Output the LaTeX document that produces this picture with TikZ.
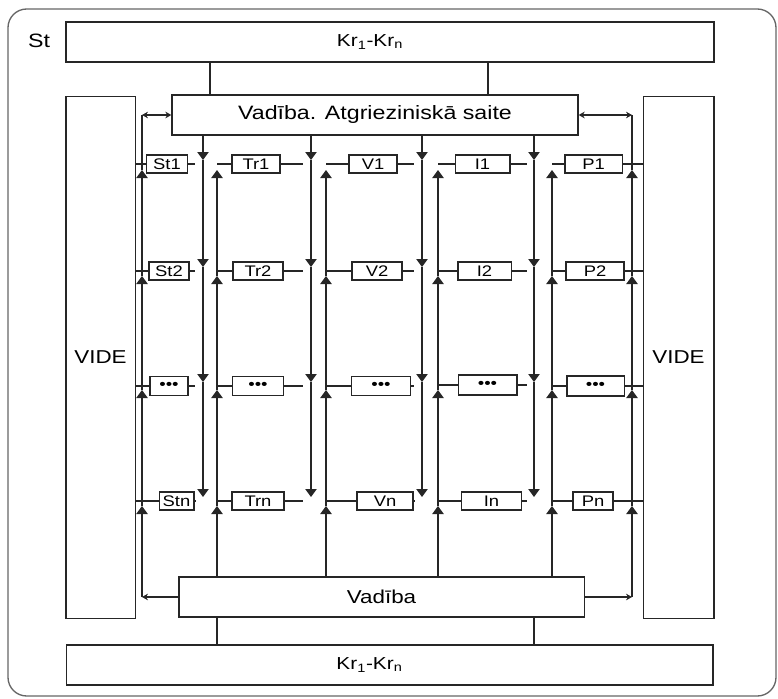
\documentclass[tikz,border=0pt]{standalone}
\usepackage{fontspec}
\setmainfont[FakeStretch=1.2]{Liberation Sans}
\usetikzlibrary{arrows.meta,positioning}

\begin{document}
\begin{tikzpicture}[
    x=0.75pt, y=-0.75pt,
    wire/.style={draw=black!85, line width=1pt},
    blk/.style={rectangle, draw=black!85, line width=1pt, minimum height=30pt, inner sep=0pt, font=\fontsize{14}{14}\selectfont},
    cell/.style={rectangle, draw=black!85, line width=1pt, minimum height=13.5pt, inner sep=0pt, font=\fontsize{11.5}{11.5}\selectfont},
    bus/.style={wire, -{Triangle[width=8.5pt,length=6pt]}},
    dbl/.style={wire, {Stealth[width=5pt,length=4.5pt]}-{Stealth[width=5pt,length=4.5pt]}},
    toarr/.style={wire, -{Stealth[width=5pt,length=4.5pt]}}
    ]
    \useasboundingbox (0,0) rectangle (778,699);
    \draw[black!60, line width=1pt, rounded corners=14pt] (8,9) rectangle (776,696);
    \node[font=\fontsize{14.5}{14.5}\selectfont] (stlabel) at (39,41) {St};

    % big blocks
    \node[blk, minimum width=486pt, font=\fontsize{13}{13}\selectfont] (krtop) at (390,42) {Kr\textsubscript{1}-Kr\textsubscript{n}\hspace*{30pt}};
    \node[blk, minimum width=304.5pt, font=\fontsize{14.5}{14.5}\selectfont] (ctl) at (375,115) {Vadība. Atgrieziniskā saite};
    \node[blk, minimum width=52pt, minimum height=391pt] (videl) at (100.5,357.5) {VIDE};
    \node[blk, minimum width=53pt, minimum height=391pt] (vider) at (678.5,357.5) {VIDE};
    \node[blk, minimum width=304pt] (ctlb) at (381.5,597) {Vadība};
    \node[blk, minimum width=485pt, font=\fontsize{13}{13}\selectfont] (krbot) at (389.5,665) {Kr\textsubscript{1}-Kr\textsubscript{n}\hspace*{30pt}};

    % cells
    \node[cell, minimum width=31pt] (st1) at (167,164) {St1};
    \node[cell, minimum width=36pt] (tr1) at (256,164) {Tr1};
    \node[cell, minimum width=36pt] (v1) at (373,164) {V1};
    \node[cell, minimum width=41pt] (i1) at (482.5,164) {I1};
    \node[cell, minimum width=43pt] (p1) at (593.5,164) {P1};

    \node[cell, minimum width=30pt] (st2) at (169,271) {St2};
    \node[cell, minimum width=37.5pt] (tr2) at (258,271) {Tr2};
    \node[cell, minimum width=37.5pt] (v2) at (377,271) {V2};
    \node[cell, minimum width=40pt] (i2) at (484.5,271) {I2};
    \node[cell, minimum width=43.5pt] (p2) at (595,271) {P2};

    \node[cell, minimum width=28.5pt, minimum height=14pt] (st3) at (169,386) {\textbullet\textbullet\textbullet};
    \node[cell, minimum width=38pt, minimum height=14pt] (tr3) at (258,386) {\textbullet\textbullet\textbullet};
    \node[cell, minimum width=44pt, minimum height=14pt] (v3) at (381,386) {\textbullet\textbullet\textbullet};
    \node[cell, minimum width=44pt, minimum height=15pt] (i3) at (487.5,385) {\textbullet\textbullet\textbullet};
    \node[cell, minimum width=43pt, minimum height=15pt] (p3) at (595.5,386) {\textbullet\textbullet\textbullet};

    \node[cell, minimum width=26pt] (st4) at (176.5,501) {Stn};
    \node[cell, minimum width=39pt] (tr4) at (258,501) {Trn};
    \node[cell, minimum width=42pt] (v4) at (385,501) {Vn};
    \node[cell, minimum width=45pt] (i4) at (491.5,501) {In};
    \node[cell, minimum width=30pt] (p4) at (593,501) {Pn};

    % bus positions
    \coordinate (bl) at (142,0);
    \coordinate (br) at (632,0);
    \coordinate (d1) at (203,0);
    \coordinate (d2) at (311,0);
    \coordinate (d3) at (422,0);
    \coordinate (d4) at (534,0);
    \coordinate (u1) at (217,0);
    \coordinate (u2) at (326,0);
    \coordinate (u3) at (438,0);
    \coordinate (u4) at (552,0);
    \coordinate (a1) at (195,0);
    \coordinate (a2) at (303,0);
    \coordinate (a3) at (414,0);
    \coordinate (a4) at (527,0);
    \coordinate (ka) at (210,0);
    \coordinate (kb) at (488,0);
    \coordinate (r1d) at (0,160);
    \coordinate (r2d) at (0,267);
    \coordinate (r3d) at (0,382);
    \coordinate (r4d) at (0,497);
    \coordinate (r1u) at (0,170);
    \coordinate (r2u) at (0,276);
    \coordinate (r3u) at (0,390);
    \coordinate (r4u) at (0,506);

    % links to Kr blocks
    \draw[wire] (krtop.south -| ka) -- (ctl.north -| ka);
    \draw[wire] (krtop.south -| kb) -- (ctl.north -| kb);
    \draw[wire] (ctlb.south -| u1) -- (krbot.north -| u1);
    \draw[wire] (ctlb.south -| d4) -- (krbot.north -| d4);

    % row lines
    \foreach \r in {1,...,4} {
      \draw[wire] (videl.east |- st\r) -- (st\r.west);
      \draw[wire] (st\r.east) -- (a1 |- st\r);
      \draw[wire] (u1 |- tr\r) -- (tr\r.west);
      \draw[wire] (tr\r.east) -- (a2 |- tr\r);
      \draw[wire] (u2 |- v\r) -- (v\r.west);
      \draw[wire] (v\r.east) -- (a3 |- v\r);
      \draw[wire] (u3 |- i\r) -- (i\r.west);
      \draw[wire] (i\r.east) -- (a4 |- i\r);
      \draw[wire] (u4 |- p\r) -- (p\r.west);
      \draw[wire] (p\r.east) -- (vider.west |- p\r);
    }

    % down buses
    \foreach \b in {d1,d2,d3,d4} {
      \draw[bus] (ctl.south -| \b) -- (\b |- r1d);
      \foreach \p/\q in {r1d/r2d, r2d/r3d, r3d/r4d}
        \draw[bus] (\b |- \p) -- (\b |- \q);
    }

    % up buses
    \foreach \b in {u1,u2,u3,u4} {
      \draw[bus] (ctlb.north -| \b) -- (\b |- r4u);
      \foreach \p/\q in {r4u/r3u, r3u/r2u, r2u/r1u}
        \draw[bus] (\b |- \p) -- (\b |- \q);
    }

    % side buses
    \foreach \b in {bl,br} {
      \draw[bus] (\b |- ctlb.west) -- (\b |- r4u);
      \foreach \p/\q in {r4u/r3u, r3u/r2u, r2u/r1u}
        \draw[bus] (\b |- \p) -- (\b |- \q);
      \draw[wire] (\b |- r1u) -- (\b |- ctl.west);
    }
    \draw[dbl] (bl |- ctl.west) -- (ctl.west);
    \draw[dbl] (ctl.east) -- (br |- ctl.east);
    \draw[toarr] (ctlb.west) -- (bl |- ctlb.west);
    \draw[toarr] (ctlb.east) -- (br |- ctlb.east);
\end{tikzpicture}
\end{document}
